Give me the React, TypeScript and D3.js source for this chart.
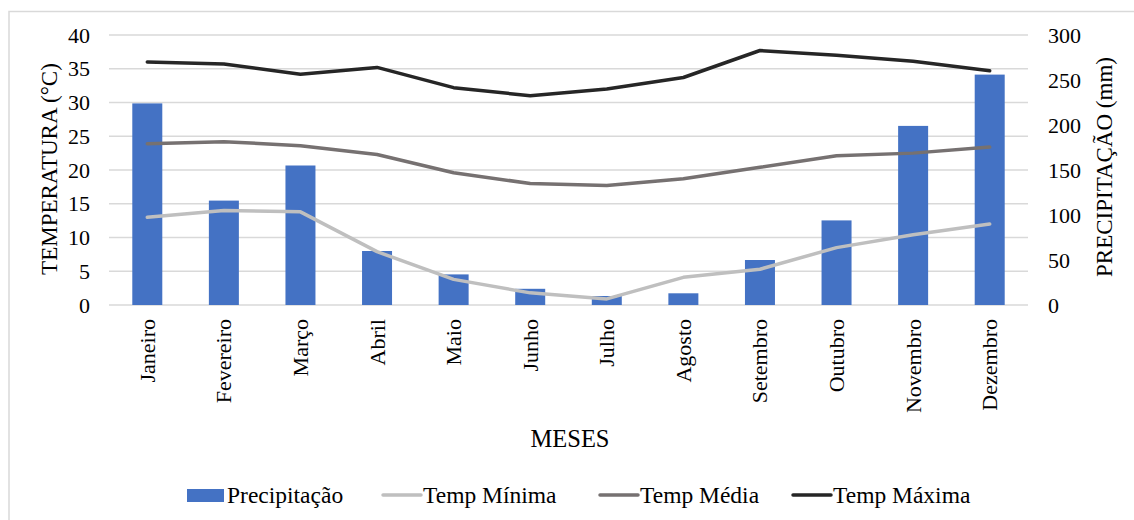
import React from "react";
import * as d3 from "d3";

const months = ["Janeiro","Fevereiro","Março","Abril","Maio","Junho","Julho","Agosto","Setembro","Outubro","Novembro","Dezembro"];
const precip = [224, 116, 155, 60, 34, 18, 10, 13, 50, 94, 199, 256];
const tempMin = [13.0, 14.0, 13.8, 7.9, 3.8, 1.8, 0.9, 4.1, 5.3, 8.5, 10.4, 12.0];
const tempMed = [23.9, 24.2, 23.6, 22.3, 19.6, 18.0, 17.7, 18.7, 20.4, 22.1, 22.5, 23.4];
const tempMax = [36.0, 35.7, 34.2, 35.2, 32.2, 31.0, 32.0, 33.7, 37.7, 37.0, 36.1, 34.7];
const leftTicks = [0, 5, 10, 15, 20, 25, 30, 35, 40];
const rightTicks = [0, 50, 100, 150, 200, 250, 300];

const W = 1134, H = 520;
const FONT = "'Liberation Serif', 'Times New Roman', serif";
const C_BAR = "#4472C4", C_MIN = "#BFBFBF", C_MED = "#767171", C_MAX = "#262626", GRID = "#D9D9D9";

export default function App() {
  const xc = d3.scaleBand<string>().domain(months).range([109, 1028]);
  const yL = d3.scaleLinear().domain([0, 40]).range([305, 35]);
  const yR = d3.scaleLinear().domain([0, 300]).range([305, 35]);
  const center = (m: string) => (xc(m) as number) + xc.bandwidth() / 2;
  const barW = 30;
  const line = (vals: number[]) =>
    d3.line<number>().x((_, i) => center(months[i])).y((v) => yL(v)).curve(d3.curveLinear)(vals) as string;

  const series = [
    { name: "Temp Mínima", vals: tempMin, color: C_MIN },
    { name: "Temp Média", vals: tempMed, color: C_MED },
    { name: "Temp Máxima", vals: tempMax, color: C_MAX },
  ];

  const legend = [
    { name: "Precipitação", kind: "bar", color: C_BAR, sx: 187, tx: 227 },
    { name: "Temp Mínima", kind: "line", color: C_MIN, sx: 383, tx: 423 },
    { name: "Temp Média", kind: "line", color: C_MED, sx: 600, tx: 640 },
    { name: "Temp Máxima", kind: "line", color: C_MAX, sx: 793, tx: 833 },
  ];

  return (
    <svg width={W} height={H} style={{ position: "absolute", left: 0, top: 0, background: "#fff" }} fontFamily={FONT}>
      <rect x={0} y={0} width={W} height={H} fill="#fff" />
      <rect x={9} y={11.5} width={W + 20} height={H + 20} fill="none" stroke={GRID} strokeWidth={1.5} />
      {leftTicks.map((t) => (
        <line key={"g" + t} x1={109} x2={1028} y1={yL(t)} y2={yL(t)} stroke={GRID} strokeWidth={1.5} />
      ))}
      {leftTicks.map((t) => (
        <text key={"l" + t} x={90} y={yL(t)} textAnchor="end" dominantBaseline="central" fontSize={22} fill="#000">{t}</text>
      ))}
      {rightTicks.map((t) => (
        <text key={"r" + t} x={1048} y={yR(t)} textAnchor="start" dominantBaseline="central" fontSize={22} fill="#000">{t}</text>
      ))}
      <text transform={`translate(49,169) rotate(-90)`} textAnchor="middle" dominantBaseline="central" fontSize={23}>TEMPERATURA (°C)</text>
      <text transform={`translate(1104,167) rotate(-90)`} textAnchor="middle" dominantBaseline="central" fontSize={23}>PRECIPITAÇÃO (mm)</text>
      {months.map((m, i) => (
        <rect key={"b" + m} x={center(m) - barW / 2} y={yR(precip[i])} width={barW} height={yR(0) - yR(precip[i])} fill={C_BAR} />
      ))}
      {series.map((s) => (
        <path key={s.name} d={line(s.vals)} fill="none" stroke={s.color} strokeWidth={3.5} strokeLinejoin="round" strokeLinecap="round" />
      ))}
      {months.map((m) => (
        <text key={"m" + m} transform={`translate(${center(m)},319) rotate(-90)`} textAnchor="end" dominantBaseline="central" fontSize={22}>{m}</text>
      ))}
      <text x={570} y={438} textAnchor="middle" dominantBaseline="central" fontSize={24.5}>MESES</text>
      {legend.map((l) => (
        <g key={"lg" + l.name}>
          {l.kind === "bar" ? (
            <rect x={l.sx} y={489} width={37} height={13} fill={l.color} />
          ) : (
            <line x1={l.sx} x2={l.sx + 38} y1={495} y2={495} stroke={l.color} strokeWidth={3.5} strokeLinecap="round" />
          )}
          <text x={l.tx} y={495} dominantBaseline="central" fontSize={23.5}>{l.name}</text>
        </g>
      ))}
    </svg>
  );
}
